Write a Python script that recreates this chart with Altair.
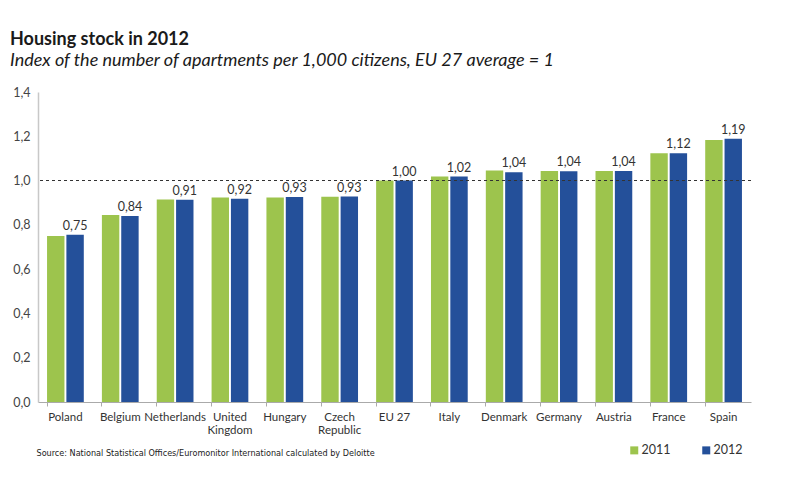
import altair as alt
import pandas as pd

countries = ["Poland", "Belgium", "Netherlands", "United Kingdom", "Hungary",
             "Czech Republic", "EU 27", "Italy", "Denmark", "Germany",
             "Austria", "France", "Spain"]
v2011 = [0.750, 0.845, 0.915, 0.923, 0.923, 0.927, 1.000, 1.018, 1.045, 1.043, 1.043, 1.123, 1.183]
v2012 = [0.755, 0.840, 0.913, 0.918, 0.926, 0.928, 1.000, 1.018, 1.038, 1.042, 1.043, 1.123, 1.189]
labels2012 = ["0,75", "0,84", "0,91", "0,92", "0,93", "0,93", "1,00", "1,02", "1,04", "1,04", "1,04", "1,12", "1,19"]
years = ["2011", "2012"]
colors = ["#9dc44d", "#24509a"]
y_ticks = [0, 0.2, 0.4, 0.6, 0.8, 1.0, 1.2, 1.4]

rows = []
for i, c in enumerate(countries):
    rows.append({"country": c, "year": "2011", "value": v2011[i], "label": ""})
    rows.append({"country": c, "year": "2012", "value": v2012[i], "label": labels2012[i]})
df = pd.DataFrame(rows)

FONT = "Lato"
NARROW = "Liberation Sans Narrow, DejaVu Sans Condensed, Roboto Condensed, Lato, sans-serif"
W, H = 713, 310

x_enc = alt.X("country:N", sort=countries,
              scale=alt.Scale(paddingInner=0.33, paddingOuter=0.165),
              axis=alt.Axis(title="Source: National Statistical Offices/Euromonitor International calculated by Deloitte",
                            titleFont=NARROW, titleFontSize=9, titleFontWeight="normal",
                            titleColor="#222", titleAnchor="start", titleAlign="left", titleBaseline="middle",
                            titleX=-2, titleY=50,
                            labelAngle=0, labelFont=FONT, labelFontSize=11.5, labelColor="#333",
                            labelPadding=5, labelLineHeight=13, labelBaseline="top",
                            labelExpr="datum.value == 'United Kingdom' ? ['United', 'Kingdom'] : datum.value == 'Czech Republic' ? ['Czech', 'Republic'] : datum.value",
                            bandPosition=0, ticks=True, tickSize=4, tickColor="#aaa",
                            domainColor="#aaa", domainWidth=1.2, grid=False))
xo_enc = alt.XOffset("year:N", scale=alt.Scale(domain=years, paddingInner=0.1, paddingOuter=0))
y_scale = alt.Scale(domain=[0, 1.4], nice=False)

bars = alt.Chart(df).mark_bar().encode(
    x=x_enc,
    xOffset=xo_enc,
    y=alt.Y("value:Q", scale=y_scale,
            axis=alt.Axis(title=None, values=y_ticks, labelExpr="replace(format(datum.value, '.1f'), '.', ',')",
                          labelFont=FONT, labelFontSize=12.5, labelColor="#444", labelPadding=8,
                          ticks=False, domainColor="#c8c8c8", domainWidth=1.5, grid=False)),
    color=alt.Color("year:N", scale=alt.Scale(domain=years, range=colors),
                    legend=alt.Legend(title=None, orient="none", legendX=590, legendY=352,
                                      direction="horizontal", symbolType="square", symbolSize=64,
                                      symbolStrokeWidth=0, columnPadding=29, labelFont=FONT,
                                      labelFontSize=12.5, labelColor="#333", labelOffset=1)),
)

text = alt.Chart(df).transform_filter(alt.datum.year == "2012").mark_text(
    dy=-2, font=FONT, fontSize=12.5, color="#333", baseline="bottom"
).encode(
    x=alt.X("country:N", sort=countries),
    xOffset=alt.XOffset("year:N"),
    y=alt.Y("value:Q"),
    text="label:N",
)

ref = alt.Chart(pd.DataFrame({"y": [1.0]})).mark_rule(
    strokeDash=[3, 3], color="#333", strokeWidth=1.1
).encode(y="y:Q")

chart = alt.layer(bars, ref, text).properties(
    width=W, height=H,
    autosize=alt.AutoSizeParams(type="none"),
    padding={"left": 30, "top": 84, "right": 20, "bottom": 60},
    title=alt.TitleParams(
        "Housing stock in 2012",
        subtitle="Index of the number of apartments per 1,000 citizens, EU 27 average = 1",
        anchor="start", frame="group", dx=-28, offset=16,
        font=FONT, fontSize=18, fontWeight="bold", color="#1a1a1a",
        subtitleFont=FONT, subtitleFontSize=18, subtitleFontStyle="italic", subtitleColor="#1a1a1a",
        subtitlePadding=3,
    ),
).configure_view(stroke=None).configure_legend(symbolStrokeColor=None)

chart.save("out.html", embed_options={"renderer": "svg", "actions": False})
